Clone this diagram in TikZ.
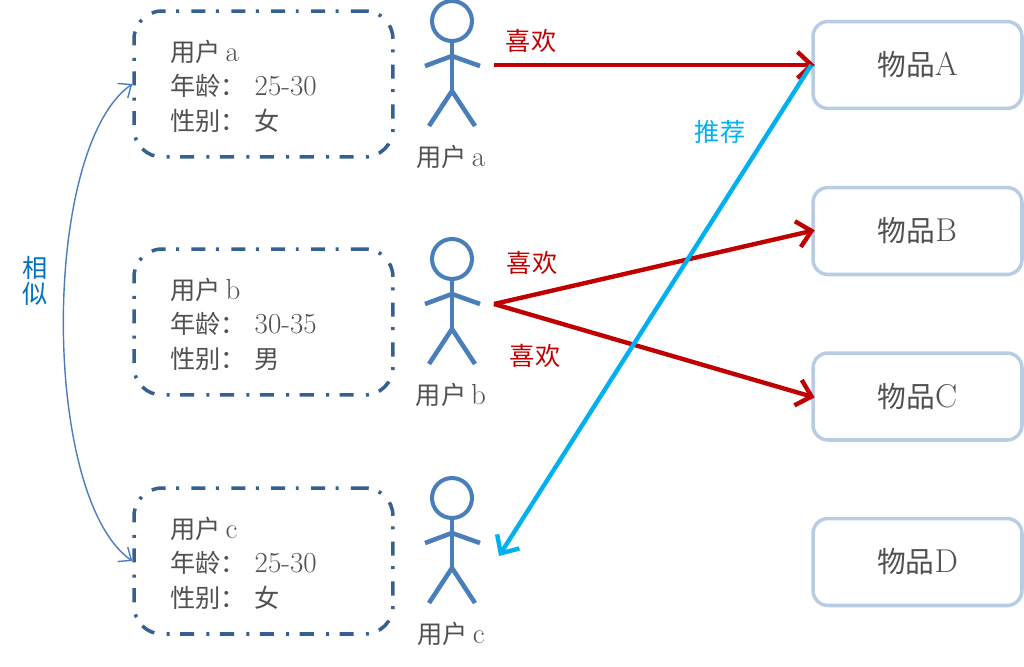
\documentclass[tikz,border=0pt]{standalone}
\usepackage{fontspec}
\usetikzlibrary{arrows.meta, positioning}
\newfontfamily\cjk[Scale=0.87]{Noto Sans CJK SC}
\newcommand{\zh}[1]{{\cjk #1}}
\definecolor{userblue}{HTML}{4A7EBB}
\definecolor{boxblue}{HTML}{36608F}
\definecolor{itemblue}{HTML}{B8CCE4}
\definecolor{likered}{HTML}{C00000}
\definecolor{recblue}{HTML}{00B0F0}
\definecolor{simblue}{HTML}{0070C0}
\definecolor{textgray}{HTML}{505050}
\tikzset{
  basetext/.style={font=\fontsize{16.5}{19.6}\selectfont, inner sep=0pt},
  userbox/.style={draw=boxblue, line width=2pt, rounded corners=0.56cm,
    dash pattern=on 8pt off 7pt on 1.7pt off 6pt,
    minimum width=5.18cm, minimum height=2.92cm},
  infotext/.style={basetext, text=textgray, align=left, anchor=west},
  itembox/.style={draw=itemblue, line width=2pt, rounded corners=0.3cm,
    minimum width=4.18cm, minimum height=1.74cm, inner sep=0pt, text=textgray,
    font=\fontsize{18.8}{20}\selectfont},
  head/.style={circle, draw=userblue, line width=2.3pt, minimum size=0.8cm, inner sep=0pt},
  limb/.style={draw=userblue, line width=2.6pt},
  likearrow/.style={draw=likered, line width=2.5pt, shorten >=-2pt,
    -{Straight Barb[length=8pt,width=15pt]}},
  recarrow/.style={draw=recblue, line width=2.5pt,
    -{Straight Barb[length=8pt,width=15pt]}},
  simarrow/.style={draw=userblue, line width=0.8pt,
    {Straight Barb[length=6pt,width=10pt]}-{Straight Barb[length=6pt,width=10pt]}},
}
\begin{document}
\begin{tikzpicture}[x=0.02cm, y=-0.02cm]
  \useasboundingbox (0,0) rectangle (1024,666);
  % users
  \foreach \name/\off/\age/\sex in {a/0/25-30/女, b/238/30-35/男, c/477/25-30/女} {
    \node[userbox] (box\name) at (263.5,84+\off) {};
    \node[infotext] (info\name) at (170,86+\off) {\zh{用户}\,\name\\\zh{年龄：}\hspace{0.3em}\age\\\zh{性别：}\hspace{0.3em}\zh{\sex}};
    \node[head] (head\name) at (452,21+\off) {};
    \coordinate (hip\name) at (452,91+\off);
    \coordinate (neck\name) at (452,56+\off);
    \draw[limb] (head\name.south) -- (hip\name);
    \draw[limb] (425,66+\off) -- (neck\name) -- (480,66+\off);
    \draw[limb] (429,126+\off) -- (hip\name) -- (475,126+\off);
    \node[basetext, text=textgray] (label\name) at (451,157+\off) {\zh{用户}\,\name};
  }
  % items
  \node[itembox] (itemA) at (917.5,65) {\zh{物品}A};
  \node[itembox] (itemB) at (917.5,231) {\zh{物品}B};
  \node[itembox] (itemC) at (917.5,396.5) {\zh{物品}C};
  \node[itembox] (itemD) at (917.5,562) {\zh{物品}D};
  % likes
  \coordinate (starta) at (494,65);
  \coordinate (startb) at (494,304);
  \draw[likearrow] (starta) -- (itemA.west);
  \draw[likearrow] (startb) -- (itemB.west);
  \draw[likearrow] (startb) -- (itemC.west);
  \node[basetext, text=likered] (likea) at (531,41) {\zh{喜欢}};
  \node[basetext, text=likered] (likeb) at (532,263) {\zh{喜欢}};
  \node[basetext, text=likered] (likec) at (535,356) {\zh{喜欢}};
  % recommendation
  \coordinate (endc) at (499,556);
  \draw[recarrow] (itemA.west) -- (endc);
  \node[basetext, text=recblue] (rec) at (720,132) {\zh{推荐}};
  % similar
  \draw[simarrow] (boxa.west) to[out=215, in=145, looseness=0.6] (boxc.west);
  \node[text=simblue, inner sep=0pt, align=center, font=\fontsize{16.5}{15}\selectfont] (sim) at (35,281) {\zh{相}\\\zh{似}};
\end{tikzpicture}
\end{document}
